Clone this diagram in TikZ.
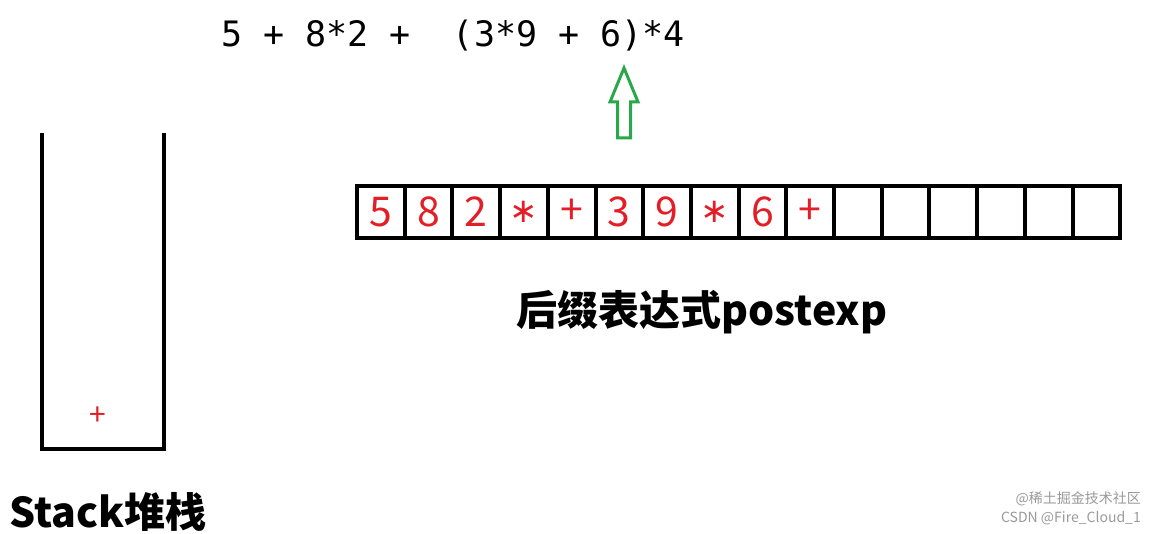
\documentclass[tikz,border=0pt]{standalone}
\usepackage{fontspec}
\setmainfont{Noto Sans CJK SC}
\newfontfamily\exprfont{DejaVu Sans Mono}
\newfontfamily\starfont{DejaVu Sans}
\usetikzlibrary{positioning}
\definecolor{cellred}{RGB}{228,30,38}
\definecolor{arrowgreen}{RGB}{40,168,72}
\newcommand{\cellstar}{{\starfont\fontsize{34}{34}\selectfont ∗}}

\begin{document}
\begin{tikzpicture}[x=1pt, y=-1pt,
        cellbox/.style={draw, line width=4pt, minimum width=47.7pt, minimum height=52pt, inner sep=0pt, outer sep=0pt, text=cellred, font=\fontsize{41}{41}\selectfont},
        captiontext/.style={font=\bfseries\fontsize{41}{41}\selectfont},
        wall/.style={line width=4pt},
        mark text/.style={text=black!40, font=\fontsize{14}{14}\selectfont, anchor=east, inner sep=0pt}
    ]
    \useasboundingbox (0,0) rectangle (1155,534);

    % Expression and scan pointer
    \node[font=\exprfont\fontsize{35}{35}\selectfont, anchor=west, inner sep=0pt] (expr) at (221,36) {5~+~8*2~+~~(3*9~+~6)*4};
    \coordinate (tip) at (624,68);
    \draw[arrowgreen, line width=3pt, line join=miter] (tip) -- ++(14,34) -- ++(-7.5,0) -- ++(0,36) -- ++(-13,0) -- ++(0,-36) -- ++(-7.5,0) -- cycle;

    % Postfix array
    \foreach \t [count=\i] in {5,8,2,\cellstar,+,3,9,\cellstar,6,+,{},{},{},{},{},{}} {
        \ifnum\i=1
            \node[cellbox] (c1) at (380.85,212) {\t};
        \else
            \pgfmathtruncatemacro\prev{\i-1}
            \node[cellbox, right=0pt of c\prev] (c\i) {\t};
        \fi
    }
    \node[captiontext] (postlbl) at (702,312) {后缀表达式postexp};

    % Stack
    \coordinate (stl) at (42,133);
    \coordinate (sbl) at (42,449);
    \coordinate (sbr) at (164,449);
    \coordinate (str) at (164,133);
    \draw[wall] (stl) -- (sbl) -- (sbr) -- (str);
    \node[text=cellred, font=\fontsize{30}{30}\selectfont] (top) at (98,416) {+};
    \node[captiontext] (stacklbl) at (108,512) {Stack堆栈};

    % Watermark
    \node[mark text] (wm1) at (1141,499) {@稀土掘金技术社区};
    \node[mark text] (wm2) at (1141,518) {CSDN @Fire\_Cloud\_1};
\end{tikzpicture}
\end{document}
